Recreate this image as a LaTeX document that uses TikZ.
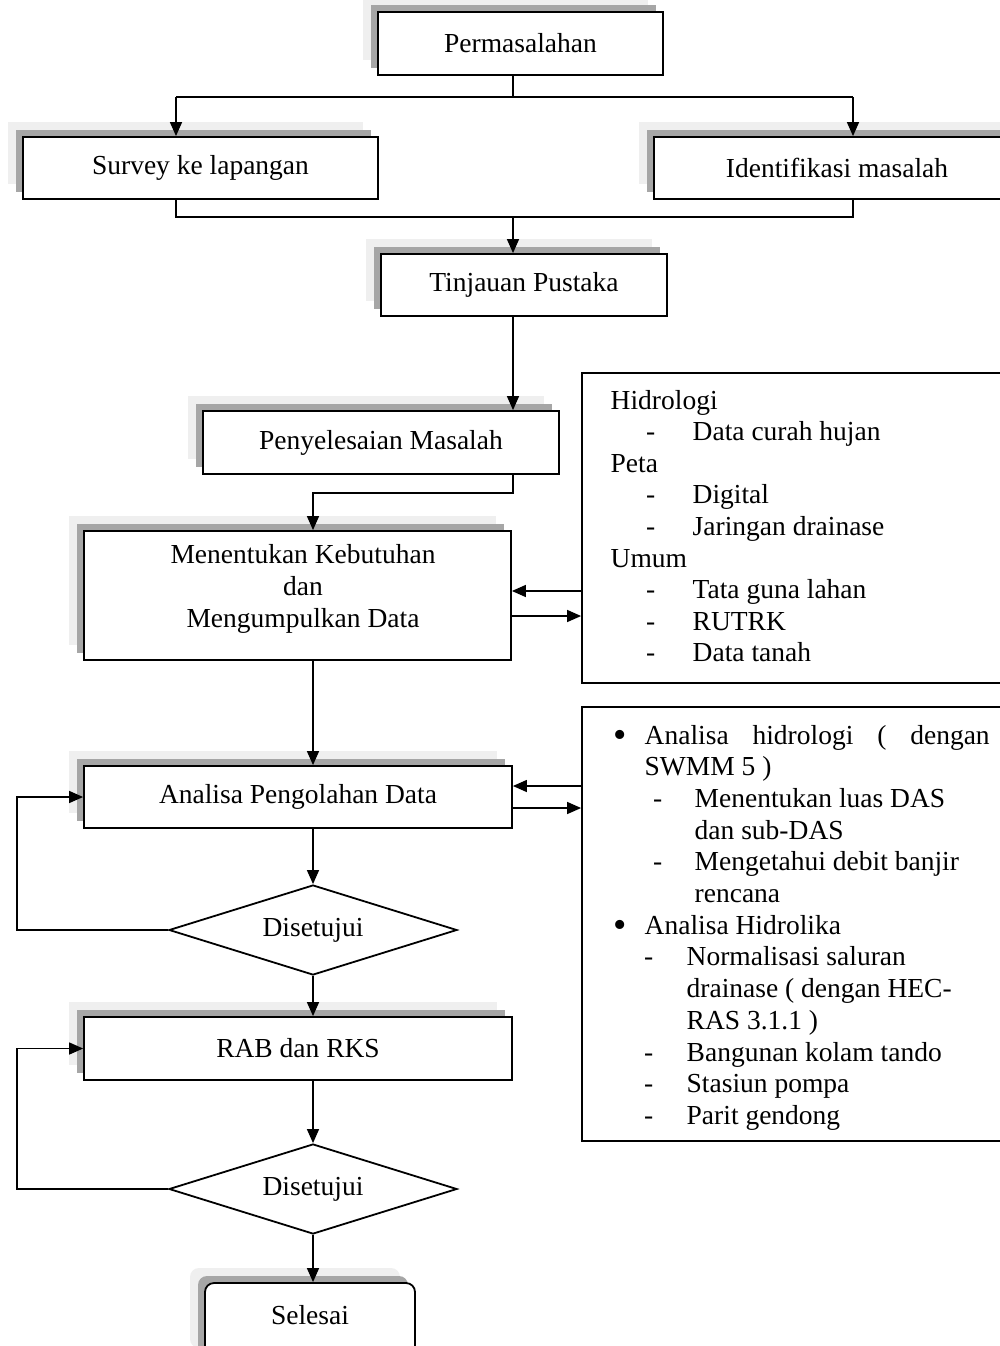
\documentclass[tikz,border=0pt]{standalone}
\usepackage{fontspec}
\setmainfont{Liberation Serif}
\usetikzlibrary{arrows.meta,shapes.geometric,calc}
\definecolor{shlight}{HTML}{EFEFEF}
\definecolor{shdark}{HTML}{A6A6A6}
\newcommand{\bigbul}{\raisebox{-3.5pt}{\fontsize{38}{38}\selectfont •}}
\begin{document}
\begin{tikzpicture}[x=1pt,y=-1pt,
  font=\fontsize{27.5}{31.6}\selectfont,
  line width=1.4pt,
  arr/.style={-{Triangle[length=14pt,width=12pt]}},
  sbox/.style={draw, fill=white, line width=1.8pt, inner sep=0pt,
    preaction={fill=shlight, transform canvas={xshift=-15pt,yshift=15pt}},
    preaction={fill=shdark, transform canvas={xshift=-7pt,yshift=7pt}}},
  plainbox/.style={draw, fill=white, line width=1.8pt, inner sep=0pt},
  dia/.style={draw, fill=white, shape=diamond, line width=1.8pt, inner sep=0pt,
    minimum width=288pt, minimum height=90pt, aspect=3.2},
  txt/.style={anchor=base west, inner sep=0pt},
]
\path[use as bounding box, fill=white] (0,0) rectangle (999,1346);

% main boxes
\node[sbox, minimum width=285pt, minimum height=63pt] (perm) at (520.5,43.5) {Permasalahan};
\node[sbox, minimum width=355pt, minimum height=62pt] (surv) at (200.5,168) {Survey ke lapangan};
\node[sbox, minimum width=366pt, minimum height=62pt] (iden) at (837,168) {Identifikasi masalah};
\node[sbox, minimum width=286pt, minimum height=62pt] (tin) at (524,285) {Tinjauan Pustaka};
\node[sbox, minimum width=356pt, minimum height=63pt] (pen) at (381,442.5) {Penyelesaian Masalah};
\node[sbox, minimum width=427pt, minimum height=129pt] (men) at (297.5,595.5) {};
\node[align=center, inner sep=0pt] (mentxt) at (303,589) {Menentukan Kebutuhan\\dan\\Mengumpulkan Data};
\node[sbox, minimum width=428pt, minimum height=62pt] (ana) at (298,797) {Analisa Pengolahan Data};
\node[sbox, minimum width=428pt, minimum height=63pt] (rab) at (298,1048.5) {RAB dan RKS};
\node[sbox, rounded corners=9pt, minimum width=210pt, minimum height=80pt] (sel) at (310,1323) {};
\node[inner sep=0pt] (seltxt) at (310,1315) {Selesai};

\node[dia] (d1) at (313,930) {Disetujui};
\node[dia] (d2) at (313,1189) {Disetujui};

% right boxes
\node[plainbox, minimum width=438pt, minimum height=310pt] (rb1) at (801,528) {};
\node[plainbox, minimum width=438pt, minimum height=434pt] (rb2) at (801,924) {};

% right box 1 text
\node[txt] (h1) at (610,409) {Hidrologi};
\node[txt] (h1a) at (645.5,440.6) {-};
\node[txt] (h1b) at (692,440.6) {Data curah hujan};
\node[txt] (h2) at (610,472.2) {Peta};
\node[txt] (h2a) at (645.5,503.8) {-};
\node[txt] (h2b) at (692,503.8) {Digital};
\node[txt] (h2c) at (645.5,535.4) {-};
\node[txt] (h2d) at (692,535.4) {Jaringan drainase};
\node[txt] (h3) at (610,567) {Umum};
\node[txt] (h3a) at (645.5,598.6) {-};
\node[txt] (h3b) at (692,598.6) {Tata guna lahan};
\node[txt] (h3c) at (645.5,630.2) {-};
\node[txt] (h3d) at (692,630.2) {RUTRK};
\node[txt] (h3e) at (645.5,661.8) {-};
\node[txt] (h3f) at (692,661.8) {Data tanah};

% right box 2 text
\node[txt] (b1) at (613,744) {\bigbul};
\node[txt] (b1t) at (644,744) {\makebox[345pt][s]{Analisa hidrologi ( dengan}};
\node[txt] (b1u) at (644,775.7) {SWMM 5 )};
\node[txt] (b2a) at (652.5,807.4) {-};
\node[txt] (b2b) at (694,807.4) {Menentukan luas DAS};
\node[txt] (b2c) at (694,839.1) {dan sub-DAS};
\node[txt] (b2d) at (652.5,870.8) {-};
\node[txt] (b2e) at (694,870.8) {Mengetahui debit banjir};
\node[txt] (b2f) at (694,902.5) {rencana};
\node[txt] (b3) at (613,934.2) {\bigbul};
\node[txt] (b3t) at (644,934.2) {Analisa Hidrolika};
\node[txt] (b4a) at (643.5,965.9) {-};
\node[txt] (b4b) at (686,965.9) {Normalisasi saluran};
\node[txt] (b4c) at (686,997.6) {drainase ( dengan HEC-};
\node[txt] (b4d) at (686,1029.3) {RAS 3.1.1 )};
\node[txt] (b4e) at (643.5,1061) {-};
\node[txt] (b4f) at (686,1061) {Bangunan kolam tando};
\node[txt] (b4g) at (643.5,1092.7) {-};
\node[txt] (b4h) at (686,1092.7) {Stasiun pompa};
\node[txt] (b4i) at (643.5,1124.4) {-};
\node[txt] (b4j) at (686,1124.4) {Parit gendong};

% connectors
\coordinate (j) at (513,97);
\coordinate (jL) at (176,97);
\coordinate (jR) at (853,97);
\draw (j |- perm.south) -- (j);
\draw (jL) -- (jR);
\draw[arr] (jL) -- (jL |- surv.north);
\draw[arr] (jR) -- (jR |- iden.north);

\coordinate (k) at (513,217);
\coordinate (kL) at (176,217);
\coordinate (kR) at (853,217);
\draw (kL |- surv.south) -- (kL) -- (kR) -- (kR |- iden.south);
\draw[arr] (k) -- (k |- tin.north);
\draw[arr] (k |- tin.south) -- (k |- pen.north);

\coordinate (m1) at (513,493);
\coordinate (m2) at (313,493);
\draw[arr] (m1 |- pen.south) -- (m1) -- (m2) -- (m2 |- men.north);
\draw[arr] (m2 |- men.south) -- (m2 |- ana.north);

\coordinate (ya1) at (0,591);
\coordinate (ya2) at (0,616);
\draw[arr] (rb1.west |- ya1) -- (men.east |- ya1);
\draw[arr] (men.east |- ya2) -- (rb1.west |- ya2);

\coordinate (yb1) at (0,786);
\coordinate (yb2) at (0,808);
\draw[arr] (rb2.west |- yb1) -- (ana.east |- yb1);
\draw[arr] (ana.east |- yb2) -- (rb2.west |- yb2);

\draw[arr] (d1 |- ana.south) -- (d1.north);
\coordinate (lp1) at (17,930);
\draw[arr] (d1.west) -- (lp1) -- (lp1 |- ana.west) -- (ana.west);
\draw[arr] (d1.south) -- (d1 |- rab.north);

\draw[arr] (d2 |- rab.south) -- (d2.north);
\coordinate (lp2) at (17,1189);
\draw[arr] (d2.west) -- (lp2) -- (lp2 |- rab.west) -- (rab.west);
\draw[arr] (d2.south) -- (d2 |- sel.north);
\end{tikzpicture}
\end{document}
